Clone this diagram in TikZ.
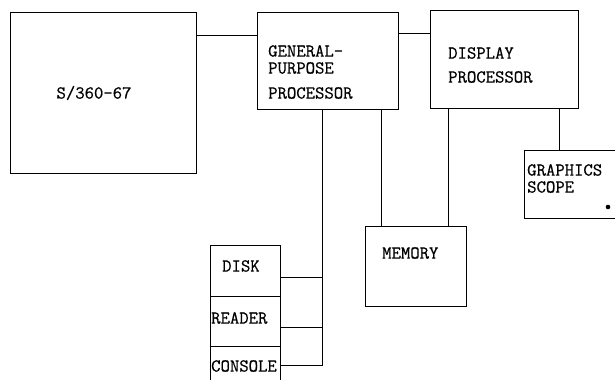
\documentclass[tikz,border=0pt]{standalone}
\usepackage{fontspec}
\newfontfamily\twfont{Latin Modern Mono}[FakeBold=0.6]
\usetikzlibrary{calc}
\begin{document}
\begin{tikzpicture}[x=1pt,y=-1pt,
  box/.style={draw,line width=0.9pt,minimum width=#1,inner sep=0pt,anchor=north west},
  lbl/.style={font=\twfont\fontsize{18.2}{20}\selectfont,anchor=west,inner sep=0pt},
  wire/.style={line width=0.9pt}]
\useasboundingbox (0,0) rectangle (615,380);
% boxes
\node[box=186pt,minimum height=161pt] (s360) at (10,12) {};
\node[box=141pt,minimum height=97pt] (gpp) at (257,12) {};
\node[box=148pt,minimum height=98pt] (disp) at (430,10) {};
\node[box=101pt,minimum height=80pt] (mem) at (365,226) {};
\node[box=70pt,minimum height=51pt] (disk) at (210,245) {};
\node[box=70pt,minimum height=50pt] (reader) at (210,296) {};
\node[minimum width=70pt,minimum height=34pt,inner sep=0pt,anchor=north west] (console) at (210,346) {};
\draw[wire] (console.south west) -- (console.north west) -- (console.north east) -- (console.south east);
\node[minimum width=91pt,minimum height=68pt,inner sep=0pt,anchor=north west] (scope) at (524,150) {};
\draw[wire] (scope.north east) -- (scope.north west) -- (scope.south west) -- (scope.south east);
\fill (608,207) circle (2.3pt);
% labels
\node[lbl,anchor=center] (t1) at (94,93) {S/360-67};
\node[lbl] (t2) at (268,51) {GENERAL-};
\node[lbl] (t3) at (268,68) {PURPOSE};
\node[lbl] (t4) at (268,93) {PROCESSOR};
\node[lbl] (t5) at (448,53) {DISPLAY};
\node[lbl] (t6) at (448,77) {PROCESSOR};
\node[lbl] (t7) at (382,253) {MEMORY};
\node[lbl] (t8) at (527,170) {GRAPHICS};
\node[lbl] (t9) at (527,187) {SCOPE};
\node[lbl] (t10) at (222,266) {DISK};
\node[lbl] (t11) at (211,318) {READER};
\node[lbl] (t12) at (211,366) {CONSOLE};
% connectors
\coordinate (a1) at ($(s360.north east)+(0,23)$);
\draw[wire] (a1) -- (gpp.west |- a1);
\coordinate (a2) at ($(gpp.north east)+(0,21)$);
\draw[wire] (a2) -- (disp.west |- a2);
\coordinate (b1) at (gpp.south west -| 322,0);
\coordinate (c1) at ($(console.north east)+(0,19)$);
\draw[wire] (b1) -- (b1 |- c1) -- (c1);
\coordinate (c2) at ($(disk.north east)+(0,32)$);
\draw[wire] (c2) -- (b1 |- c2);
\coordinate (c3) at ($(reader.north east)+(0,31)$);
\draw[wire] (c3) -- (b1 |- c3);
\coordinate (b2) at (gpp.south west -| 381,0);
\draw[wire] (b2) -- (b2 |- mem.north);
\coordinate (b3) at (disp.south west -| 448,0);
\draw[wire] (b3) -- (b3 |- mem.north);
\coordinate (b4) at (disp.south west -| 559,0);
\draw[wire] (b4) -- (b4 |- scope.north);
\end{tikzpicture}
\end{document}
